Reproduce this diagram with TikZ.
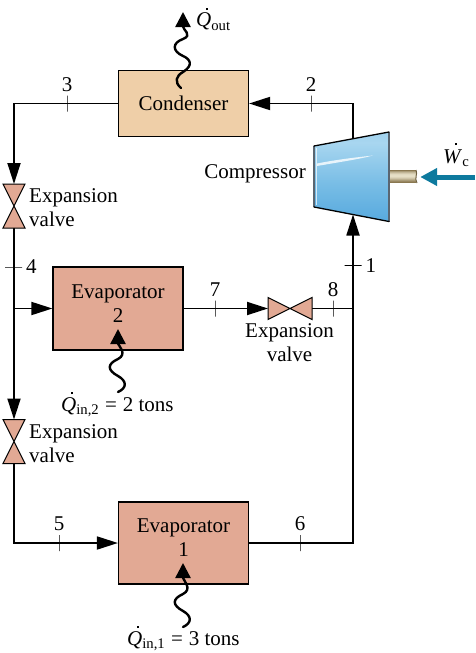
\documentclass[tikz,border=0pt]{standalone}
\usepackage{amsmath}
\usepackage{fontspec}
\setmainfont{Liberation Serif}
\usetikzlibrary{arrows.meta, shapes.geometric, calc}
\definecolor{condfill}{HTML}{EFCFA8}
\definecolor{evapfill}{HTML}{E2A994}
\definecolor{workblue}{HTML}{0E7A9E}
\definecolor{compEdge}{HTML}{5A6672}
\definecolor{shaftDark}{HTML}{8A7850}
\definecolor{shaftLight}{HTML}{E6DFC6}
\pgfdeclareverticalshading{compshade}{100bp}{
    rgb(0bp)=(0.37,0.69,0.89);
    rgb(18bp)=(0.30,0.64,0.86);
    rgb(46bp)=(0.47,0.74,0.90);
    rgb(69bp)=(0.66,0.84,0.94);
    rgb(100bp)=(0.50,0.75,0.90)}
\newcommand{\qdot}{\rlap{\kern9.5pt\raisebox{17pt}{\rule{2.4pt}{2.4pt}}}\textit{Q}}
\newcommand{\wdot}{\rlap{\kern11.5pt\raisebox{18pt}{\rule{2.4pt}{2.4pt}}}\textit{W}}

\begin{document}
\begin{tikzpicture}[
                x=1pt, y=-1pt,
                font=\fontsize{21}{24}\selectfont,
                component/.style={draw=black, line width=1.2pt, rectangle, minimum width=130pt, inner sep=0pt},
                boxtext/.style={align=center, inner sep=0pt},
                pipe/.style={line width=1.8pt},
                flow/.style={pipe, -{Triangle[length=21pt, width=13pt]}},
                heat/.style={line width=2.4pt, line cap=round, -{Triangle[length=15pt, width=15pt]}},
                vtick/.style={draw=black, line width=0.6pt, minimum width=0pt, minimum height=16pt, inner sep=0pt, outer sep=0pt},
                htick/.style={draw=black, line width=0.6pt, minimum height=0pt, minimum width=17pt, inner sep=0pt, outer sep=0pt},
                numlabel/.style={inner sep=0pt, label distance=4pt},
                valvebox/.style={minimum width=22pt, minimum height=44pt, inner sep=0pt, outer sep=0pt},
                hvalvebox/.style={minimum width=44pt, minimum height=22pt, inner sep=0pt, outer sep=0pt},
                valve/.style={draw=black, line width=1pt, fill=evapfill, line join=miter}
            ]
            \useasboundingbox (0,0) rectangle (475,653);

            % Components
            \node[component, fill=condfill, minimum height=66.5pt] (cond) at (183.5,103.5) {};
            \node[boxtext] (condtext) at (183.5,103) {Condenser};
            \node[component, fill=evapfill, minimum height=83pt] (evB) at (118,308.5) {};
            \node[boxtext] (evBtext) at (118,304) {Evaporator\\2};
            \node[component, fill=evapfill, minimum height=82pt] (evA) at (183.5,543) {};
            \node[boxtext] (evAtext) at (183.5,538) {Evaporator\\1};

            % Valves
            \node[valvebox] (vA) at (14,206) {};
            \node[valvebox] (vB) at (14,441.5) {};
            \node[hvalvebox] (vC) at (290,308.5) {};
            \node[boxtext, anchor=west, align=left] (vAtext) at (29,208) {Expansion\\valve};
            \node[boxtext, anchor=west, align=left] (vBtext) at (29,443.5) {Expansion\\valve};
            \node[boxtext] (vCtext) at (289.5,343) {Expansion\\valve};

            % Compressor
            \coordinate (cNW) at (314,146);
            \coordinate (cNE) at (389,132);
            \coordinate (cSE) at (389,221.5);
            \coordinate (cSW) at (314,207);
            \coordinate (cTop) at (353,139);
            \coordinate (cBot) at (353,214.5);
            \shade[shading=compshade] (cNW) -- (cNE) -- (cSE) -- (cSW) -- cycle;
            \fill[white, opacity=0.8] (317,163.5) .. controls (340,159) and (360,157) .. (373,155.5) .. controls (360,159) and (340,162) .. (317,166) -- cycle;
            \draw[white, opacity=0.7, line width=1pt] (316,148) -- (316,205);
            \draw[line width=1.2pt, draw=compEdge] (cNW) -- (cSW);
            \draw[line width=1.4pt, draw=compEdge] (cNE) -- (cSE);
            \draw[line width=1.3pt, line cap=round] (cNW) -- (cNE);
            \draw[line width=1.3pt, line cap=round] (cSW) -- (cSE);

            % Shaft, banded by hand
            \node[minimum width=28pt, minimum height=13pt, inner sep=0pt] (shaft) at (403,176.5) {};
            \foreach \i/\m in {0/0,1/35,2/60,3/80,4/95,5/100,6/100,7/90,8/75,9/55,10/35,11/15,12/0}
                \fill[shaftLight!\m!shaftDark] (390,170+\i) rectangle (416,171+\i);
            \draw[shaftDark!80!black, line width=1pt] (416,170) .. controls (418,174) and (414,178) .. (417,183);

            \node[boxtext, anchor=east] (comptext) at (306,174) {Compressor};

            % Pipes
            \coordinate (jA) at (14,103.5);
            \coordinate (jB) at (14,308.5);
            \coordinate (jC) at (14,543);
            \coordinate (jD) at (353,308.5);
            \coordinate (jE) at (353,543);
            \coordinate (jF) at (353,103.5);
            \draw[flow] (cTop) -- (jF) -- (cond.east);
            \draw[flow] (cond.west) -- (jA) -- (vA.north);
            \draw[flow] (vA.south) -- (vB.north);
            \draw[flow] (jB) -- (evB.west);
            \draw[flow] (vB.south) -- (jC) -- (evA.west);
            \draw[flow] (evA.east) -- (jE) -- (cBot);
            \draw[flow] (evB.east) -- (vC.west);
            \draw[pipe] (vC.east) -- (jD);

            % Valve bodies on top of the pipes
            \filldraw[valve] (vA.north west) -- (vA.north east) -- (vA.south west) -- (vA.south east) -- cycle;
            \filldraw[valve] (vB.north west) -- (vB.north east) -- (vB.south west) -- (vB.south east) -- cycle;
            \filldraw[valve] (vC.north west) -- (vC.south west) -- (vC.north east) -- (vC.south east) -- cycle;

            % State points
            \node[vtick, label={[numlabel]above:3}] (s3) at (67,103.5) {};
            \node[vtick, label={[numlabel]above:2}] (s2) at (311,103.5) {};
            \node[htick, label={[numlabel]right:4}] (s4) at (13.5,267) {};
            \node[htick, label={[numlabel]right:1}] (s1) at (353,265.5) {};
            \node[vtick, label={[numlabel]above:7}] (s7) at (215,308.5) {};
            \node[vtick, label={[numlabel]above:8}] (s8) at (333,308.5) {};
            \node[vtick, label={[numlabel]above:5}] (s5) at (59,543) {};
            \node[vtick, label={[numlabel]above:6}] (s6) at (300,543) {};

            % Heat and work
            \coordinate (qOutStart) at (181,88);
            \coordinate (qOutEnd) at (183,12);
            \draw[heat] (qOutStart) .. controls (174,82) and (176,76) .. (183,72) .. controls (194,65) and (190,59) .. (183,56) .. controls (172,51) and (172,43) .. (183,39) .. controls (193,35) and (183,30) .. (qOutEnd);
            \coordinate (qBStart) at (118,392);
            \coordinate (qBEnd) at (118,329);
            \draw[heat] (qBStart) .. controls (127,388) and (127,381) .. (118,376) .. controls (107,370) and (107,364) .. (118,359) .. controls (128,354) and (118,345) .. (qBEnd);
            \coordinate (qAStart) at (183,627);
            \coordinate (qAEnd) at (183,563);
            \draw[heat] (qAStart) .. controls (192,623) and (192,616) .. (183,611) .. controls (172,605) and (172,599) .. (183,594) .. controls (193,589) and (183,580) .. (qAEnd);
            \node[boxtext, anchor=base west] (qOutLabel) at (196,27) {\qdot$_{\text{out}}$};
            \node[boxtext, anchor=base west] (qBLabel) at (61,411) {\qdot$_{\text{in,2}}$\;=\;2 tons};
            \node[boxtext, anchor=base west] (qALabel) at (127,645) {\qdot$_{\text{in,1}}$\;=\;3 tons};
            \coordinate (wIn) at (475,177);
            \draw[line width=5pt, draw=workblue, -{Triangle[length=17pt, width=17pt]}, shorten >=3pt] (wIn) -- (shaft.east |- wIn);
            \node[boxtext, anchor=base west] (wLabel) at (443,163) {\wdot$_{\text{c}}$};

        \end{tikzpicture}
\end{document}
